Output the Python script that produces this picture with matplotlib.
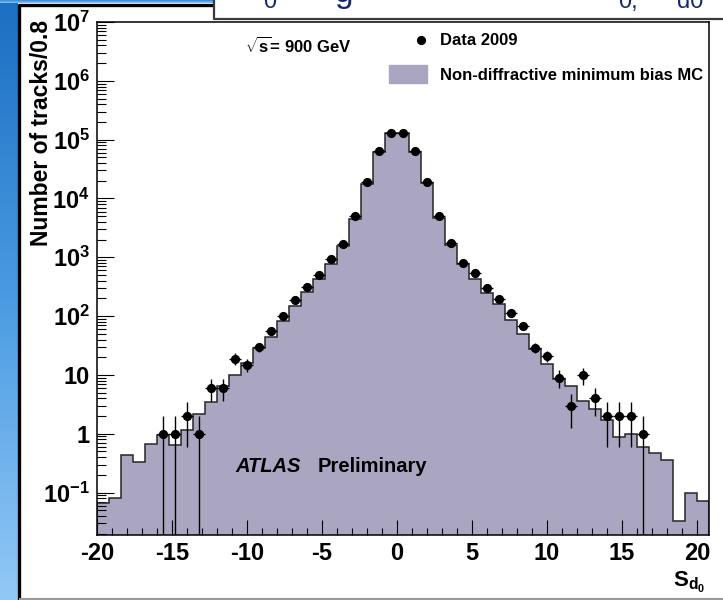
import numpy as np
import matplotlib
matplotlib.use("Agg")
import matplotlib.pyplot as plt
from matplotlib.lines import Line2D
from matplotlib.patches import Patch
from matplotlib.ticker import MultipleLocator, LogLocator, NullFormatter
from matplotlib.colors import LinearSegmentedColormap

# ---------------- data ----------------
bin_low = -20.0
bin_width = 0.8

mc_values = [0.066, 0.080, 0.44, 0.33, 0.68, 0.96, 0.65, 1.14, 2.2, 3.5,
             6.6, 10, 16, 29, 45, 82, 148, 252, 425, 760,
             1550, 4450, 17400, 60600, 132000, 132000, 61000, 18200, 4700, 1600,
             760, 420, 250, 158, 85, 49, 27.5, 15.5, 8.5, 6.6,
             3.55, 2.6, 1.73, 0.88, 1.0, 0.59, 0.48, 0.36, 0.033, 0.10, 0.073]

data_counts = [0, 0, 0, 0, 0, 1, 1, 2, 1, 6,
               6, 19, 15, 30, 55, 102, 190, 313, 500, 945,
               1700, 4950, 18700, 63600, 129000, 129000, 63600, 19000, 4950, 1730,
               810, 545, 296, 192, 114, 67, 29, 21, 9, 3,
               10, 4, 2, 2, 2, 1, 0, 0, 0, 0, 0]

xtick_vals = [-20, -15, -10, -5, 0, 5, 10, 15, 20]
xtick_labels = ["-20", "-15", "-10", "-5", "0", "5", "10", "15", "20"]
ytick_vals = [1e-1, 1, 10, 1e2, 1e3, 1e4, 1e5, 1e6, 1e7]
ytick_labels = [r"$10^{-1}$", "1", "10", r"$10^{2}$", r"$10^{3}$", r"$10^{4}$",
                r"$10^{5}$", r"$10^{6}$", r"$10^{7}$"]

ylabel_text = "Number of tracks/0.8"
xlabel_text = r"$\mathrm{S}_{\mathrm{d}_{\mathrm{0}}}$"
energy_text = r"$\sqrt{\mathrm{s}}$= 900 GeV"
legend_labels = ["Data 2009", "Non-diffractive minimum bias MC"]

# ---------------- style ----------------
plt.rcParams["font.family"] = ["Liberation Sans", "DejaVu Sans"]
plt.rcParams["font.weight"] = "bold"
plt.rcParams["axes.unicode_minus"] = False
plt.rcParams["mathtext.fontset"] = "custom"
plt.rcParams["mathtext.rm"] = "Liberation Sans:bold"
plt.rcParams["mathtext.bf"] = "Liberation Sans:bold"
plt.rcParams["mathtext.it"] = "Liberation Sans:bold:italic"

fill_color = "#aaa6c1"
W, H = 723, 600

fig = plt.figure(figsize=(W / 100, H / 100), dpi=100)
fig.patch.set_facecolor("white")

# ---------------- slide decoration (background) ----------------
bg = fig.add_axes([0, 0, 1, 1], zorder=-10)
bg.set_xlim(0, W)
bg.set_ylim(H, 0)
bg.axis("off")
grad = np.linspace(0, 1, 256).reshape(-1, 1)
blue_cmap = LinearSegmentedColormap.from_list("slide", ["#1b6fc2", "#4b9be2", "#92c8f6"])
bg.imshow(grad, cmap=blue_cmap, extent=[0, 17.5, H, 0], aspect="auto")
bg.imshow(grad[:40], cmap=blue_cmap, extent=[0, 214, 3.5, 0], aspect="auto")
bg.plot([18.5, 18.5], [3.5, H], color="black", lw=2.4, solid_capstyle="butt")
bg.plot([17.5, 214], [5.2, 5.2], color="black", lw=2.4, solid_capstyle="butt")
bg.fill_between([214, W], 0, 18, color="white", zorder=2)
bg.plot([214, 214, W], [0, 18.5, 18.5], color="#3a3a3a", lw=1.6, zorder=3)
bg.plot([20, W], [598.5, 598.5], color="#9a9a9a", lw=1.5)
navy = "#15286c"
for s, x, yb, fs in [("0", 263, 8, 17), ("g", 335, 2, 24), ("0,", 618, 8, 17), ("d0", 677, 8, 17)]:
    bg.text(x, yb, s, fontsize=fs, fontweight="normal", color=navy,
            ha="left", va="baseline", zorder=4)

# ---------------- main axes ----------------
ax = fig.add_axes([97 / W, (H - 535) / H, 612 / W, 513 / H])
edges = bin_low + bin_width * np.arange(len(mc_values) + 1)
centers = 0.5 * (edges[:-1] + edges[1:])
mc = np.array(mc_values, dtype=float)
data = np.array(data_counts, dtype=float)

ax.stairs(mc, edges, baseline=1e-4, fill=True, color=fill_color, lw=0, zorder=1)
ax.stairs(mc, edges, baseline=1e-4, color="#262626", lw=1.1, zorder=2)

mask = data > 0
d = data[mask]
err = np.sqrt(d)
lo = np.where(d - err <= 0, d * (1 - 1e-7), err)
ax.errorbar(centers[mask], d, yerr=[lo, err], xerr=bin_width / 2, fmt="o",
            color="black", ms=5.6, elinewidth=1.0, capsize=0, zorder=3)

ax.set_yscale("log")
ax.set_xlim(edges[0], edges[-1])
ax.set_ylim(0.019, 1e7)

ax.set_xticks(xtick_vals, labels=xtick_labels)
ax.xaxis.set_minor_locator(MultipleLocator(1))
ax.set_yticks(ytick_vals, labels=ytick_labels)
ax.yaxis.set_minor_locator(LogLocator(base=10, subs=np.arange(2, 10)))
ax.yaxis.set_minor_formatter(NullFormatter())

ax.tick_params(which="both", direction="in", top=False, right=False, width=0.8,
               colors="black", labelsize=17)
ax.tick_params(axis="y", which="major", length=12.5, pad=5)
ax.tick_params(axis="y", which="minor", length=6.5)
ax.tick_params(axis="x", which="major", length=11, pad=5)
ax.tick_params(axis="x", which="minor", length=5)
for lab in ax.get_xticklabels() + ax.get_yticklabels():
    lab.set_fontweight("bold")
for sp in ax.spines.values():
    sp.set_linewidth(1.1)
    sp.set_color("black")

ax.text(-0.0915, 1.004, ylabel_text, rotation=90, ha="center", va="top",
        fontsize=16.5, fontweight="bold", transform=ax.transAxes)
ax.text(0.9935, -0.101, xlabel_text, ha="right", va="baseline", fontsize=16,
        transform=ax.transAxes)

# annotations
ax.text(0.242, 0.9396, energy_text, fontsize=12, fontweight="bold",
        ha="left", va="baseline", transform=ax.transAxes)
ax.text(0.2255, 0.1228, "ATLAS", fontsize=14.5, fontweight="bold", style="italic",
        ha="left", va="baseline", transform=ax.transAxes)
ax.text(0.361, 0.1228, "Preliminary", fontsize=14.5, fontweight="bold",
        ha="left", va="baseline", transform=ax.transAxes)

leg1 = ax.legend([Line2D([], [], marker="o", ls="none", color="black", ms=5.6)],
                 [legend_labels[0]], loc="center left", bbox_to_anchor=(0.5158, 0.963),
                 frameon=False, borderpad=0, borderaxespad=0, handlelength=1.0,
                 handletextpad=0.64, prop={"size": 12, "weight": "bold"})
ax.add_artist(leg1)
ax.legend([Patch(facecolor=fill_color, edgecolor=fill_color)], [legend_labels[1]],
          loc="center left", bbox_to_anchor=(0.4771, 0.8986),
          frameon=False, borderpad=0, borderaxespad=0, handlelength=2.3,
          handleheight=1.2, handletextpad=0.78, prop={"size": 12, "weight": "bold"})

fig.savefig("out.png", dpi=100)
